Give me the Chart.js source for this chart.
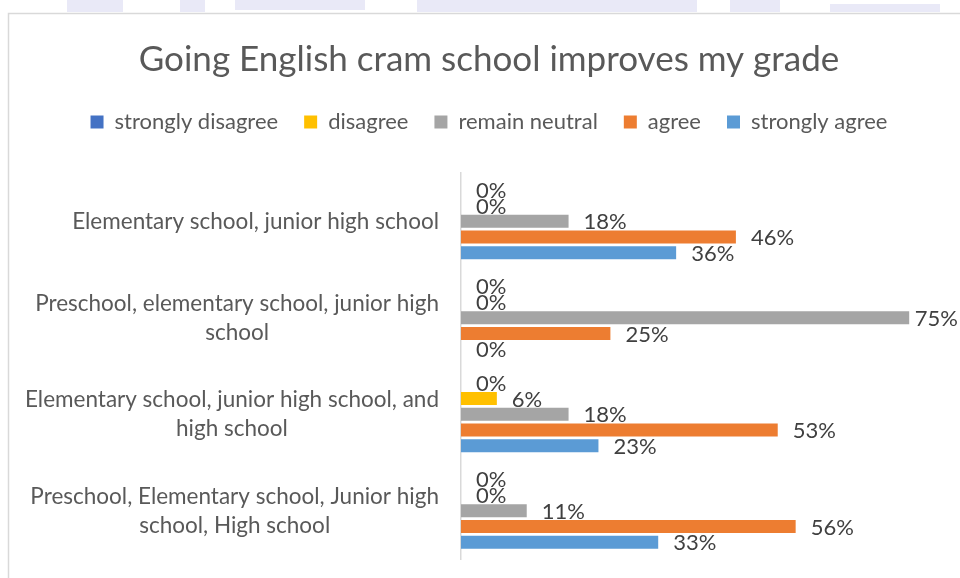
<!DOCTYPE html>
<html>
<head>
<meta charset="utf-8">
<script src="https://cdn.jsdelivr.net/npm/chart.js@4.4.0/dist/chart.umd.min.js"></script>
<style>
  html, body { margin: 0; padding: 0; background: #fff; }
  #wrap { width: 960px; height: 578px; position: relative; }
</style>
</head>
<body>
<div id="wrap"><canvas id="gradeChart" width="960" height="578"></canvas></div>
<script>
// survey answers per schooling group (percent)
var groups = [
  ["Elementary school, junior high school"],
  ["Preschool, elementary school, junior high", "school"],
  ["Elementary school, junior high school, and", "high school"],
  ["Preschool, Elementary school, Junior high", "school, High school"],
];
var stronglyDisagree = [0, 0, 0, 0];
var disagree = [0, 0, 6, 0];
var remainNeutral = [18, 75, 18, 11];
var agree = [46, 25, 53, 56];
var stronglyAgree = [36, 0, 23, 33];

var FONT = "Lato, 'Open Sans', sans-serif";

// frame line + faint strip above it
var framePlugin = {
  id: "frame",
  beforeDraw: function (chart) {
    var c = chart.ctx;
    c.save();
    c.fillStyle = "#fff";
    c.fillRect(0, 0, chart.width, chart.height);
    c.fillStyle = "rgba(200,200,235,0.4)";
    c.fillRect(67, 0, 56, 12);
    c.fillRect(180, 0, 25, 12);
    c.fillRect(235, 0, 130, 10);
    c.fillRect(417, 0, 280, 12);
    c.fillRect(730, 0, 50, 12);
    c.fillRect(830, 4, 110, 8);
    c.strokeStyle = "#d9d9d9";
    c.lineWidth = 1.5;
    c.beginPath();
    c.moveTo(8.5, chart.height);
    c.lineTo(8.5, 13.5);
    c.lineTo(chart.width, 13.5);
    c.stroke();
    c.restore();
  },
};

// category labels: each block right aligned, lines centred inside it
var groupLabels = {
  id: "groupLabels",
  afterDraw: function (chart) {
    var c = chart.ctx;
    var y = chart.scales.y;
    c.save();
    c.font = "22.5px " + FONT;
    c.fillStyle = "#595959";
    c.textAlign = "center";
    c.textBaseline = "middle";
    groups.forEach(function (lines, i) {
      var w = Math.max.apply(null, lines.map(function (l) { return c.measureText(l).width; }));
      var cx = y.right - 22 - w / 2;
      var cy = y.getPixelForValue(i);
      var lh = 29;
      lines.forEach(function (l, k) {
        c.fillText(l, cx, cy + (k - (lines.length - 1) / 2) * lh);
      });
    });
    c.restore();
  },
};

// value labels at the end of each bar, kept inside the canvas
var valueLabels = {
  id: "valueLabels",
  afterDatasetsDraw: function (chart) {
    var c = chart.ctx;
    c.save();
    c.font = "22px " + FONT;
    c.fillStyle = "#404040";
    c.textAlign = "left";
    c.textBaseline = "middle";
    chart.data.datasets.forEach(function (ds, di) {
      chart.getDatasetMeta(di).data.forEach(function (bar, i) {
        var txt = ds.data[i] + "%";
        var x = Math.min(bar.x + 15, chart.width - c.measureText(txt).width - 2);
        c.fillText(txt, x, bar.y + 1);
      });
    });
    c.restore();
  },
};

new Chart(document.getElementById("gradeChart"), {
  type: "bar",
  data: {
    labels: groups,
    datasets: [
      { label: "strongly disagree", data: stronglyDisagree, backgroundColor: "#4472c4" },
      { label: "disagree", data: disagree, backgroundColor: "#ffc000" },
      { label: "remain neutral", data: remainNeutral, backgroundColor: "#a5a5a5" },
      { label: "agree", data: agree, backgroundColor: "#ed7d31" },
      { label: "strongly agree", data: stronglyAgree, backgroundColor: "#5b9bd5" },
    ],
  },
  options: {
    indexAxis: "y",
    responsive: false,
    animation: false,
    layout: { padding: { left: 18, top: 39, right: 0, bottom: 19 } },
    datasets: { bar: { categoryPercentage: 0.815, barPercentage: 0.83 } },
    scales: {
      x: {
        position: "top",
        min: 0,
        max: 83.5,
        grid: { display: false },
        border: { display: false },
        ticks: { display: false },
        afterFit: function (scale) { scale.height = 30; },
      },
      y: {
        grid: { display: false },
        border: { display: true, color: "#d9d9d9", width: 1.5 },
        ticks: { display: false },
        afterFit: function (scale) { scale.width = 443; },
      },
    },
    plugins: {
      title: {
        display: true,
        text: "Going English cram school improves my grade",
        color: "#595959",
        font: { family: FONT, size: 35, weight: "normal" },
        padding: { top: 0, bottom: 4 },
      },
      legend: {
        labels: {
          color: "#595959",
          font: { family: FONT, size: 22 },
          boxWidth: 13,
          boxHeight: 13,
          padding: 26,
        },
      },
      tooltip: { enabled: false },
    },
  },
  plugins: [framePlugin, groupLabels, valueLabels],
});
</script>
</body>
</html>
